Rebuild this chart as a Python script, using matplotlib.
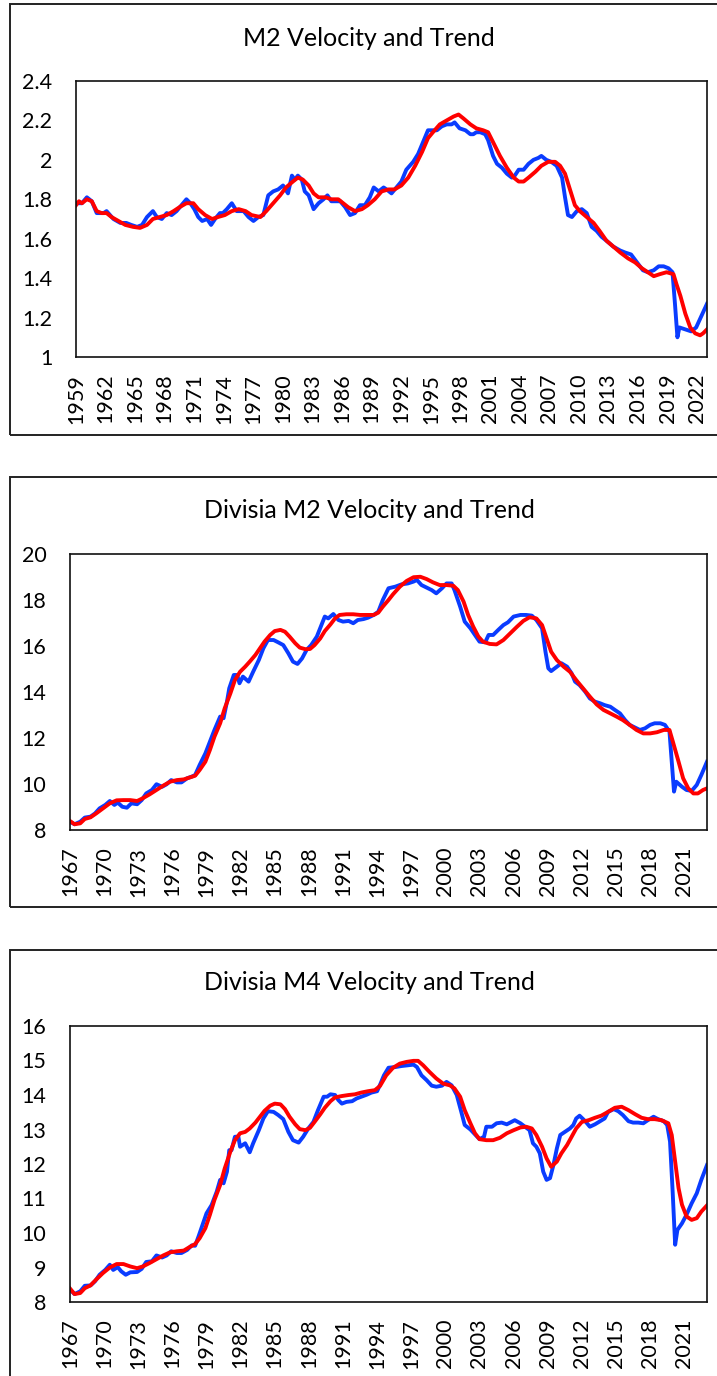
import matplotlib
matplotlib.use("Agg")
import matplotlib.pyplot as plt
from matplotlib.patches import Rectangle

plt.rcParams['font.family'] = ['Lato', 'DejaVu Sans']

## Data (quarterly-ish points)

# M2 velocity
m2_yr = [1959.0, 1959.6, 1960.1, 1960.6, 1961.1, 1961.8, 1962.1, 1962.8, 1963.5, 1964.1,
         1964.6, 1965.2, 1965.7, 1966.2, 1966.8, 1967.2, 1967.7, 1968.2, 1968.7, 1969.2,
         1969.7, 1970.2, 1970.6, 1971.0, 1971.4, 1971.8, 1972.3, 1972.7, 1973.1, 1973.6,
         1973.9, 1974.3, 1974.8, 1975.3, 1976.0, 1976.5, 1977.0, 1977.5, 1978.0, 1978.5,
         1979.0, 1979.5, 1980.0, 1980.5, 1980.9, 1981.2, 1981.5, 1981.9, 1982.2, 1982.6,
         1983.1, 1983.6, 1984.1, 1984.5, 1984.9, 1985.8, 1986.3, 1986.8, 1987.3, 1987.8,
         1988.3, 1988.8, 1989.2, 1989.7, 1990.2, 1990.5, 1991.0, 1991.5, 1992.0, 1992.5,
         1993.2, 1993.7, 1994.2, 1994.7, 1995.1, 1995.6, 1996.1, 1996.6, 1997.1, 1997.4,
         1997.9, 1998.5, 1999.0, 1999.3, 1999.6, 2000.0, 2000.5, 2000.8, 2001.3, 2001.7,
         2002.2, 2002.7, 2003.2, 2003.5, 2003.9, 2004.4, 2004.9, 2005.4, 2005.9, 2006.2,
         2006.7, 2007.2, 2007.75, 2008.3, 2008.6, 2008.9, 2009.3, 2009.8, 2010.3, 2010.8,
         2011.3, 2011.8, 2012.3, 2012.8, 2013.5, 2014.2, 2014.7, 2015.3, 2015.9, 2016.5,
         2017.0, 2017.6, 2018.1, 2018.6, 2019.1, 2019.5, 2019.75, 2020.0, 2020.2, 2020.8,
         2021.4, 2021.9, 2022.45, 2023.0]
m2_vel = [1.78, 1.78, 1.81, 1.79, 1.73, 1.73, 1.74, 1.70, 1.68, 1.68,
          1.67, 1.66, 1.67, 1.71, 1.74, 1.71, 1.70, 1.73, 1.72, 1.74,
          1.77, 1.80, 1.78, 1.75, 1.71, 1.69, 1.70, 1.67, 1.70, 1.73,
          1.73, 1.75, 1.78, 1.74, 1.74, 1.71, 1.69, 1.71, 1.72, 1.82,
          1.84, 1.85, 1.87, 1.83, 1.92, 1.90, 1.92, 1.90, 1.84, 1.82,
          1.75, 1.78, 1.80, 1.82, 1.79, 1.79, 1.76, 1.72, 1.73, 1.77,
          1.77, 1.81, 1.86, 1.84, 1.86, 1.85, 1.83, 1.86, 1.89, 1.95,
          1.99, 2.03, 2.09, 2.15, 2.15, 2.15, 2.17, 2.18, 2.18, 2.19,
          2.16, 2.15, 2.13, 2.13, 2.14, 2.14, 2.13, 2.10, 2.02, 1.98,
          1.96, 1.93, 1.91, 1.92, 1.95, 1.95, 1.98, 2.00, 2.01, 2.02,
          2.00, 1.99, 1.97, 1.91, 1.81, 1.72, 1.71, 1.74, 1.75, 1.73,
          1.66, 1.64, 1.61, 1.59, 1.56, 1.54, 1.53, 1.52, 1.48, 1.44,
          1.43, 1.44, 1.46, 1.46, 1.45, 1.43, 1.27, 1.10, 1.15, 1.14,
          1.13, 1.15, 1.21, 1.27]
m2_tr_yr = [1959.0, 1959.3, 1959.6, 1960.1, 1960.6, 1961.1, 1961.6, 1962.1, 1962.6, 1963.3,
            1964.0, 1964.8, 1965.5, 1966.2, 1966.8, 1967.5, 1968.2, 1968.9, 1969.5, 1970.2,
            1970.9, 1971.4, 1972.1, 1972.8, 1973.4, 1974.1, 1974.8, 1975.5, 1976.2, 1976.8,
            1977.7, 1978.3, 1979.0, 1979.7, 1980.3, 1981.0, 1981.5, 1982.0, 1982.6, 1983.1,
            1983.6, 1984.3, 1984.9, 1985.6, 1986.1, 1986.6, 1987.3, 1988.0, 1988.6, 1989.3,
            1990.0, 1990.7, 1991.3, 1992.0, 1992.7, 1993.4, 1994.1, 1994.7, 1995.2, 1995.9,
            1996.6, 1997.3, 1997.8, 1998.3, 1999.0, 1999.6, 2000.3, 2000.8, 2001.3, 2002.0,
            2002.7, 2003.4, 2003.9, 2004.4, 2004.9, 2005.6, 2006.2, 2006.9, 2007.6, 2008.1,
            2008.6, 2009.1, 2009.6, 2010.1, 2010.8, 2011.5, 2012.1, 2012.8, 2013.5, 2014.2,
            2015.0, 2015.7, 2016.4, 2017.0, 2017.6, 2018.2, 2018.9, 2019.6, 2019.9, 2020.3,
            2020.8, 2021.3, 2021.8, 2022.3, 2022.6, 2023.0]
m2_trend = [1.77, 1.79, 1.78, 1.80, 1.79, 1.74, 1.73, 1.73, 1.71, 1.69,
            1.67, 1.66, 1.655, 1.67, 1.70, 1.71, 1.72, 1.74, 1.76, 1.78,
            1.78, 1.75, 1.72, 1.70, 1.71, 1.72, 1.74, 1.75, 1.74, 1.72,
            1.71, 1.74, 1.78, 1.82, 1.86, 1.89, 1.91, 1.90, 1.87, 1.83,
            1.81, 1.81, 1.80, 1.80, 1.78, 1.76, 1.74, 1.75, 1.77, 1.80,
            1.84, 1.85, 1.85, 1.87, 1.91, 1.97, 2.04, 2.11, 2.14, 2.18,
            2.20, 2.22, 2.23, 2.21, 2.18, 2.16, 2.15, 2.14, 2.09, 2.02,
            1.96, 1.91, 1.89, 1.89, 1.91, 1.94, 1.97, 1.99, 1.99, 1.97,
            1.93, 1.85, 1.77, 1.74, 1.71, 1.68, 1.64, 1.59, 1.56, 1.53,
            1.50, 1.48, 1.45, 1.43, 1.41, 1.42, 1.43, 1.42, 1.37, 1.31,
            1.22, 1.15, 1.12, 1.11, 1.12, 1.14]

# Divisia M2 velocity
dm2_yr = [1967.0, 1967.4, 1967.9, 1968.3, 1968.8, 1969.2, 1969.6, 1970.1, 1970.5, 1970.9,
          1971.2, 1971.6, 1972.0, 1972.4, 1972.9, 1973.3, 1973.7, 1974.2, 1974.6, 1975.1,
          1975.5, 1975.9, 1976.4, 1976.8, 1977.3, 1977.7, 1978.0, 1978.4, 1978.9, 1979.3,
          1979.7, 1980.2, 1980.5, 1980.8, 1981.0, 1981.4, 1981.7, 1981.9, 1982.2, 1982.7,
          1983.1, 1983.6, 1984.0, 1984.4, 1984.9, 1985.3, 1985.75, 1986.2, 1986.6, 1987.0,
          1987.4, 1987.8, 1988.2, 1988.7, 1989.1, 1989.4, 1989.7, 1990.15, 1990.6, 1991.0,
          1991.5, 1991.9, 1992.3, 1992.8, 1993.2, 1993.7, 1994.1, 1994.5, 1995.0, 1995.6,
          1996.15, 1996.7, 1997.2, 1997.5, 1997.9, 1998.35, 1998.8, 1999.2, 1999.7, 2000.1,
          2000.55, 2000.8, 2001.3, 2001.7, 2002.2, 2002.6, 2003.0, 2003.5, 2003.8, 2004.2,
          2004.65, 2005.1, 2005.5, 2006.0, 2006.6, 2007.1, 2007.6, 2008.0, 2008.5, 2008.8,
          2009.05, 2009.3, 2009.8, 2010.2, 2010.7, 2011.1, 2011.4, 2011.8, 2012.3, 2012.7,
          2013.15, 2013.6, 2014.0, 2014.5, 2014.9, 2015.35, 2015.8, 2016.2, 2016.7, 2017.1,
          2017.55, 2018.0, 2018.4, 2018.9, 2019.3, 2019.7, 2019.9, 2020.1, 2020.3, 2020.8,
          2021.2, 2021.65, 2022.1, 2022.5, 2023.0]
dm2_vel = [8.36, 8.25, 8.36, 8.54, 8.58, 8.72, 8.94, 9.09, 9.26, 9.09,
           9.19, 9.01, 8.97, 9.16, 9.12, 9.30, 9.59, 9.74, 9.99, 9.88,
           9.99, 10.17, 10.07, 10.07, 10.25, 10.32, 10.39, 10.83, 11.33, 11.84,
           12.35, 12.93, 12.86, 13.58, 14.16, 14.74, 14.74, 14.38, 14.67, 14.45,
           14.88, 15.39, 15.90, 16.26, 16.26, 16.16, 16.04, 15.68, 15.32, 15.22,
           15.46, 15.83, 16.04, 16.41, 16.91, 17.28, 17.20, 17.39, 17.13, 17.06,
           17.09, 16.99, 17.13, 17.17, 17.23, 17.35, 17.49, 18.00, 18.51, 18.58,
           18.68, 18.72, 18.80, 18.87, 18.65, 18.54, 18.43, 18.29, 18.51, 18.72,
           18.72, 18.43, 17.71, 17.06, 16.77, 16.48, 16.19, 16.16, 16.48, 16.48,
           16.70, 16.91, 17.03, 17.28, 17.35, 17.35, 17.32, 17.13, 16.77, 15.75,
           15.03, 14.91, 15.10, 15.25, 15.10, 14.81, 14.45, 14.30, 14.01, 13.72,
           13.58, 13.51, 13.43, 13.36, 13.22, 13.07, 12.78, 12.57, 12.45, 12.35,
           12.42, 12.57, 12.64, 12.64, 12.57, 12.28, 10.97, 9.67, 10.10, 9.88,
           9.74, 9.70, 9.96, 10.39, 10.97]
dm2_tr_yr = [1967.0, 1967.4, 1967.9, 1968.3, 1968.8, 1969.3, 1969.9, 1970.5, 1971.1, 1971.7,
             1972.3, 1972.9, 1973.4, 1974.0, 1974.6, 1975.2, 1975.8, 1976.4, 1977.0, 1977.5,
             1978.0, 1978.4, 1978.9, 1979.3, 1979.7, 1980.2, 1980.6, 1981.1, 1981.5, 1981.95,
             1982.4, 1982.8, 1983.3, 1983.7, 1984.1, 1984.6, 1985.0, 1985.5, 1985.9, 1986.3,
             1986.8, 1987.2, 1987.7, 1988.1, 1988.5, 1989.0, 1989.4, 1989.9, 1990.3, 1990.7,
             1991.3, 1991.9, 1992.5, 1993.1, 1993.7, 1994.1, 1994.5, 1995.0, 1995.4, 1996.0,
             1996.6, 1997.2, 1997.8, 1998.35, 1998.9, 1999.5, 2000.1, 2000.7, 2001.1, 2001.6,
             2002.0, 2002.45, 2002.9, 2003.3, 2003.9, 2004.5, 2005.1, 2005.7, 2006.3, 2006.85,
             2007.4, 2008.0, 2008.5, 2008.9, 2009.3, 2009.8, 2010.4, 2010.95, 2011.5, 2012.1,
             2012.7, 2013.3, 2013.9, 2014.5, 2015.05, 2015.6, 2016.2, 2016.8, 2017.4, 2018.0,
             2018.6, 2019.2, 2019.7, 2020.0, 2020.5, 2020.9, 2021.35, 2021.8, 2022.2, 2022.65,
             2023.0]
dm2_trend = [8.39, 8.25, 8.29, 8.48, 8.55, 8.72, 8.94, 9.16, 9.29, 9.30,
             9.30, 9.26, 9.38, 9.55, 9.74, 9.93, 10.10, 10.17, 10.20, 10.28,
             10.36, 10.61, 10.97, 11.48, 12.06, 12.64, 13.29, 13.94, 14.52, 14.88,
             15.10, 15.32, 15.61, 15.90, 16.19, 16.48, 16.65, 16.70, 16.62, 16.41,
             16.12, 15.93, 15.86, 15.87, 16.04, 16.33, 16.65, 16.94, 17.20, 17.35,
             17.38, 17.38, 17.35, 17.35, 17.35, 17.45, 17.71, 18.00, 18.25, 18.58,
             18.83, 18.99, 19.01, 18.91, 18.77, 18.65, 18.65, 18.62, 18.43, 17.93,
             17.35, 16.84, 16.41, 16.19, 16.09, 16.07, 16.26, 16.55, 16.84, 17.09,
             17.25, 17.20, 16.91, 16.33, 15.75, 15.39, 15.10, 14.88, 14.52, 14.16,
             13.80, 13.46, 13.22, 13.07, 12.93, 12.78, 12.57, 12.35, 12.20, 12.20,
             12.25, 12.35, 12.35, 11.84, 10.97, 10.25, 9.81, 9.59, 9.59, 9.74,
             9.81]

# Divisia M4 velocity
dm4_yr = [1967.0, 1967.4, 1967.9, 1968.3, 1968.8, 1969.2, 1969.6, 1970.1, 1970.5, 1970.8,
          1971.2, 1971.5, 1971.9, 1972.3, 1972.9, 1973.3, 1973.7, 1974.2, 1974.6, 1975.1,
          1975.5, 1975.9, 1976.4, 1976.8, 1977.3, 1977.7, 1978.0, 1978.3, 1978.7, 1979.0,
          1979.45, 1979.9, 1980.2, 1980.5, 1980.8, 1981.0, 1981.2, 1981.5, 1981.8, 1981.95,
          1982.4, 1982.8, 1983.1, 1983.6, 1984.0, 1984.4, 1984.9, 1985.3, 1985.75, 1986.2,
          1986.6, 1987.1, 1987.5, 1987.95, 1988.4, 1988.8, 1989.3, 1989.6, 1989.9, 1990.3,
          1990.6, 1990.9, 1991.3, 1991.8, 1992.2, 1992.6, 1993.1, 1993.5, 1994.0, 1994.3,
          1994.6, 1995.0, 1995.6, 1996.15, 1996.7, 1997.2, 1997.5, 1997.9, 1998.35, 1998.8,
          1999.2, 1999.7, 2000.1, 2000.55, 2001.0, 2001.4, 2001.7, 2002.2, 2002.6, 2003.0,
          2003.4, 2003.6, 2004.1, 2004.5, 2004.95, 2005.4, 2005.8, 2006.1, 2006.6, 2007.0,
          2007.4, 2007.7, 2008.0, 2008.3, 2008.6, 2008.9, 2009.2, 2009.5, 2009.8, 2010.1,
          2010.5, 2010.95, 2011.25, 2011.5, 2011.8, 2012.3, 2012.7, 2013.15, 2013.6, 2014.0,
          2014.3, 2014.8, 2015.2, 2015.6, 2016.1, 2016.5, 2016.95, 2017.4, 2017.8, 2018.3,
          2018.7, 2019.2, 2019.5, 2019.75, 2019.98, 2020.2, 2020.4, 2020.8, 2021.2, 2021.65,
          2022.1, 2022.5, 2023.0]
dm4_vel = [8.36, 8.23, 8.31, 8.47, 8.48, 8.60, 8.79, 8.93, 9.08, 8.93,
           9.01, 8.89, 8.79, 8.86, 8.87, 8.96, 9.16, 9.18, 9.35, 9.29,
           9.35, 9.47, 9.42, 9.42, 9.51, 9.64, 9.63, 9.90, 10.28, 10.57,
           10.81, 11.20, 11.54, 11.44, 11.78, 12.40, 12.40, 12.79, 12.79, 12.50,
           12.60, 12.34, 12.60, 12.98, 13.32, 13.53, 13.51, 13.42, 13.30, 12.93,
           12.69, 12.62, 12.79, 13.03, 13.22, 13.56, 13.95, 13.95, 14.02, 14.00,
           13.85, 13.75, 13.80, 13.82, 13.90, 13.95, 14.01, 14.07, 14.11, 14.33,
           14.57, 14.79, 14.81, 14.84, 14.86, 14.88, 14.81, 14.57, 14.43, 14.27,
           14.24, 14.27, 14.38, 14.28, 14.00, 13.51, 13.13, 13.00, 12.86, 12.72,
           12.79, 13.08, 13.08, 13.18, 13.20, 13.15, 13.22, 13.27, 13.18, 13.08,
           12.98, 12.60, 12.50, 12.31, 11.78, 11.54, 11.59, 11.97, 12.45, 12.84,
           12.93, 13.03, 13.13, 13.32, 13.40, 13.24, 13.08, 13.15, 13.24, 13.32,
           13.51, 13.59, 13.53, 13.42, 13.24, 13.20, 13.20, 13.18, 13.27, 13.37,
           13.30, 13.24, 13.13, 12.65, 11.20, 9.66, 10.09, 10.28, 10.53, 10.86,
           11.15, 11.54, 11.97]
dm4_tr_yr = [1967.0, 1967.4, 1967.9, 1968.3, 1968.8, 1969.3, 1969.9, 1970.5, 1971.1, 1971.7,
             1972.3, 1972.9, 1973.4, 1974.0, 1974.6, 1975.2, 1975.8, 1976.4, 1977.0, 1977.5,
             1978.0, 1978.4, 1978.9, 1979.3, 1979.7, 1980.2, 1980.6, 1981.1, 1981.5, 1981.95,
             1982.4, 1982.8, 1983.3, 1983.7, 1984.1, 1984.6, 1985.0, 1985.5, 1985.9, 1986.3,
             1986.8, 1987.2, 1987.7, 1988.1, 1988.5, 1989.0, 1989.4, 1989.9, 1990.3, 1990.9,
             1991.5, 1992.05, 1992.6, 1993.2, 1993.8, 1994.25, 1994.8, 1995.4, 1996.0, 1996.6,
             1997.2, 1997.6, 1998.05, 1998.6, 1999.2, 1999.8, 2000.4, 2000.8, 2001.3, 2001.7,
             2002.2, 2002.6, 2003.0, 2003.6, 2004.2, 2004.8, 2005.4, 2006.0, 2006.6, 2007.1,
             2007.6, 2008.0, 2008.5, 2008.9, 2009.3, 2009.8, 2010.2, 2010.7, 2011.1, 2011.5,
             2012.0, 2012.6, 2013.15, 2013.7, 2014.3, 2014.9, 2015.5, 2016.1, 2016.7, 2017.25,
             2017.8, 2018.4, 2019.0, 2019.6, 2019.9, 2020.2, 2020.5, 2020.8, 2021.2, 2021.65,
             2022.1, 2022.5, 2023.0]
dm4_trend = [8.39, 8.23, 8.26, 8.40, 8.48, 8.65, 8.84, 9.00, 9.10, 9.10,
             9.03, 8.98, 9.03, 9.13, 9.24, 9.35, 9.44, 9.47, 9.49, 9.59,
             9.68, 9.85, 10.14, 10.53, 10.96, 11.39, 11.87, 12.36, 12.69, 12.89,
             12.93, 13.03, 13.20, 13.37, 13.54, 13.69, 13.75, 13.73, 13.59, 13.37,
             13.15, 13.01, 12.98, 13.05, 13.22, 13.44, 13.63, 13.82, 13.93, 13.97,
             14.00, 14.02, 14.07, 14.11, 14.14, 14.26, 14.57, 14.79, 14.91, 14.96,
             14.99, 14.99, 14.86, 14.67, 14.48, 14.33, 14.28, 14.19, 13.95, 13.56,
             13.18, 12.89, 12.72, 12.69, 12.69, 12.76, 12.89, 12.98, 13.06, 13.08,
             13.03, 12.84, 12.50, 12.16, 11.92, 12.07, 12.31, 12.55, 12.79, 13.03,
             13.22, 13.27, 13.34, 13.40, 13.51, 13.63, 13.66, 13.56, 13.44, 13.34,
             13.30, 13.30, 13.27, 13.18, 12.84, 12.07, 11.30, 10.82, 10.48, 10.38,
             10.43, 10.62, 10.80]

titles = ["M2 Velocity and Trend", "Divisia M2 Velocity and Trend", "Divisia M4 Velocity and Trend"]
yticks1 = [1, 1.2, 1.4, 1.6, 1.8, 2, 2.2, 2.4]
ylabels1 = ["1", "1.2", "1.4", "1.6", "1.8", "2", "2.2", "2.4"]
yticks2 = [8, 10, 12, 14, 16, 18, 20]
yticks3 = [8, 9, 10, 11, 12, 13, 14, 15, 16]

## Figure

W, H = 717, 1376
fig = plt.figure(figsize=(W / 100, H / 100), dpi=100)

def fx(px):
    return px / W

def fy(py):
    return 1 - py / H

# outer frames (chart objects), right edge cut by the screenshot
for top, bot in [(4, 435), (477, 907), (950, 1390)]:
    fig.patches.append(Rectangle((fx(10), fy(bot)), 1.0, fy(top) - fy(bot),
                                 transform=fig.transFigure, fill=False,
                                 edgecolor='#222222', linewidth=1.4, clip_on=False))

def panel(box, title, title_y, xb, yb, xr, yr, x0, yt, ylab):
    left, top, right, bottom = box
    ax = fig.add_axes([fx(left), fy(bottom), fx(right) - fx(left), fy(top) - fy(bottom)])
    ax.plot(xb, yb, color='#0a3cff', lw=2.8, solid_joinstyle='round')
    ax.plot(xr, yr, color='#ff0000', lw=2.8, solid_joinstyle='round')
    ax.set_xlim(x0, 2023)
    ax.set_ylim(yt[0], yt[-1])
    ax.set_yticks(yt)
    ax.set_yticklabels(ylab)
    xt = list(range(x0, 2023, 3))
    ax.set_xticks(xt)
    ax.set_xticklabels([str(t) for t in xt], rotation=90)
    ax.tick_params(axis='both', length=0, labelsize=15.5)
    ax.tick_params(axis='y', pad=17)
    ax.tick_params(axis='x', pad=12)
    for s in ax.spines.values():
        s.set_linewidth(1.2)
        s.set_color('#111111')
    fig.text(fx(369), fy(title_y), title, ha='center', va='center', fontsize=18)
    return ax

panel((76, 81, 707, 357), titles[0], 38, m2_yr, m2_vel, m2_tr_yr, m2_trend,
      1959, yticks1, ylabels1)
panel((70, 554, 707, 830), titles[1], 510, dm2_yr, dm2_vel, dm2_tr_yr, dm2_trend,
      1967, yticks2, [str(v) for v in yticks2])
panel((70, 1026, 707, 1302), titles[2], 982, dm4_yr, dm4_vel, dm4_tr_yr, dm4_trend,
      1967, yticks3, [str(v) for v in yticks3])

fig.savefig("out.png", dpi=100)
